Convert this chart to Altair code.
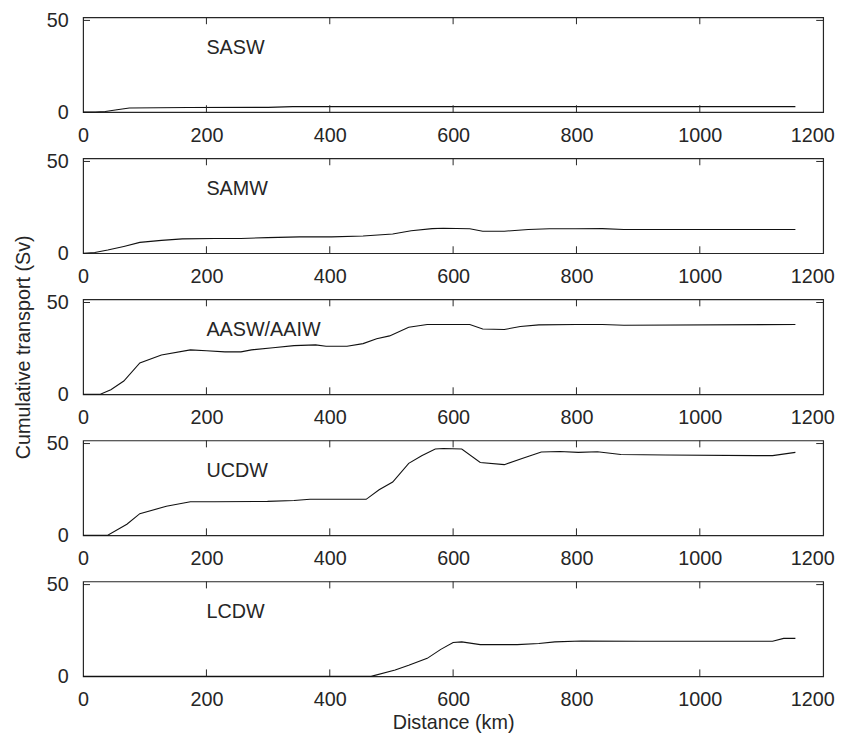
import altair as alt
import pandas as pd

# ---------------- data ----------------
x_ticks = [0, 200, 400, 600, 800, 1000, 1200]
y_ticks = [0, 50]
inner_x_ticks = [200, 400, 600, 800, 1000]
inner_y_ticks = [50]

names = ["SASW", "SAMW", "AASW/AAIW", "UCDW", "LCDW"]
label_km = 200
label_sv = 35

sasw_km = [0, 20, 36, 55, 75, 170, 300, 340, 600, 1155]
sasw_sv = [0, 0.1, 0.4, 1.3, 2.3, 2.5, 2.6, 3.0, 3.0, 3.0]

samw_km = [0, 19, 40, 66, 92, 127, 161, 213, 256, 299, 351, 403, 454, 502, 532,
           566, 584, 627, 648, 683, 722, 756, 799, 842, 877, 1155]
samw_sv = [0, 0.4, 1.7, 3.7, 5.9, 7.0, 7.8, 8.0, 8.0, 8.5, 8.9, 8.9, 9.4, 10.5, 12.2,
           13.4, 13.6, 13.3, 12.0, 12.0, 12.9, 13.3, 13.3, 13.4, 12.9, 12.9]

aasw_km = [0, 28, 45, 66, 92, 127, 174, 200, 230, 256, 273, 308, 342, 377, 394, 428,
           454, 476, 497, 528, 558, 627, 648, 683, 709, 739, 799, 842, 877, 1155]
aasw_sv = [0, 0, 2.5, 7.2, 17.1, 21.4, 24.2, 23.7, 23.1, 23.1, 24.2, 25.3, 26.5, 26.9,
           26.2, 26.2, 27.6, 30.3, 31.8, 36.5, 38.0, 38.0, 35.6, 35.3, 36.9, 37.8, 38.0,
           38.0, 37.6, 38.0]

ucdw_km = [0, 40, 71, 92, 135, 174, 213, 299, 342, 368, 459, 480, 502, 528, 549, 571,
           584, 614, 644, 683, 713, 743, 773, 803, 834, 872, 945, 1092, 1118, 1155]
ucdw_sv = [0, 0, 6.0, 11.8, 15.8, 18.3, 18.3, 18.5, 19.0, 19.6, 19.6, 24.8, 29.0, 39.2,
           43.3, 47.0, 47.3, 47.0, 39.7, 38.5, 42.0, 45.4, 45.7, 45.2, 45.5, 44.0, 43.8,
           43.4, 43.4, 45.2]

lcdw_km = [0, 467, 506, 528, 558, 580, 600, 614, 644, 704, 739, 765, 808, 903, 1118,
           1136, 1155]
lcdw_sv = [0, 0, 3.4, 6.0, 9.8, 14.7, 18.4, 18.8, 17.3, 17.3, 17.9, 18.8, 19.3, 19.1,
           19.1, 20.7, 20.7]

series = [(sasw_km, sasw_sv), (samw_km, samw_sv), (aasw_km, aasw_sv),
          (ucdw_km, ucdw_sv), (lcdw_km, lcdw_sv)]

# ---------------- style ----------------
W, H = 749, 96
YMAX = 51.7
TICK = 7
FONT = "Liberation Sans"
INK = "#262626"


def panel(i):
    km, sv = series[i]
    df = pd.DataFrame({"km": km, "sv": sv})
    xs = alt.Scale(domain=[0, 1200], nice=False, zero=False)
    ys = alt.Scale(domain=[0, YMAX], nice=False)
    xaxis = alt.Axis(
        values=x_ticks, format="d", grid=False, domain=False, ticks=False, tickSize=0,
        labelFlush=False, labelPadding=13.5, labelFontSize=20, labelFont=FONT,
        labelColor=INK,
        labelOffset={"condition": {"test": "datum.value == 1200", "value": -11}, "value": 0},
        title="Distance (km)" if i == 4 else None,
        titleFont=FONT, titleFontSize=20, titleFontWeight="normal", titleColor=INK,
        titlePadding=3,
    )
    yaxis = alt.Axis(
        values=y_ticks, format="d", grid=False, domain=False, ticks=False, tickSize=0,
        labelPadding=15, labelFontSize=20, labelFont=FONT, labelColor=INK,
        title="Cumulative transport (Sv)" if i == 2 else None,
        titleFont=FONT, titleFontSize=20, titleFontWeight="normal", titleColor=INK,
        titlePadding=13,
    )
    xenc = alt.X("km:Q", scale=xs, axis=xaxis)
    yenc = alt.Y("sv:Q", scale=ys, axis=yaxis)

    line = alt.Chart(df).mark_line(color="#111111", strokeWidth=1.1).encode(x=xenc, y=yenc)

    lab = alt.Chart(pd.DataFrame({"km": [label_km], "sv": [label_sv], "t": [names[i]]})).mark_text(
        align="left", baseline="middle", fontSize=20, font=FONT, color=INK
    ).encode(x=xenc, y=yenc, text="t:N")

    xt = pd.DataFrame({"km": inner_x_ticks})
    yt = pd.DataFrame({"sv": inner_y_ticks})
    top_t = alt.Chart(xt).mark_rule(color=INK, strokeWidth=1).encode(
        x=xenc, y=alt.value(0), y2=alt.value(TICK))
    bot_t = alt.Chart(xt).mark_rule(color=INK, strokeWidth=1).encode(
        x=xenc, y=alt.value(H), y2=alt.value(H - TICK))
    left_t = alt.Chart(yt).mark_rule(color=INK, strokeWidth=1).encode(
        y=yenc, x=alt.value(0), x2=alt.value(TICK))
    right_t = alt.Chart(yt).mark_rule(color=INK, strokeWidth=1).encode(
        y=yenc, x=alt.value(W), x2=alt.value(W - TICK))

    return alt.layer(line, lab, top_t, bot_t, left_t, right_t).properties(width=W, height=H)


chart = alt.vconcat(*[panel(i) for i in range(5)], spacing=46.75, bounds="flush").properties(
    padding={"left": 5, "top": -3, "right": 0, "bottom": 0},
    background="white",
).configure_view(
    stroke=INK, strokeWidth=1.2
)

chart.save("out.html", embed_options={"renderer": "svg", "actions": False})
